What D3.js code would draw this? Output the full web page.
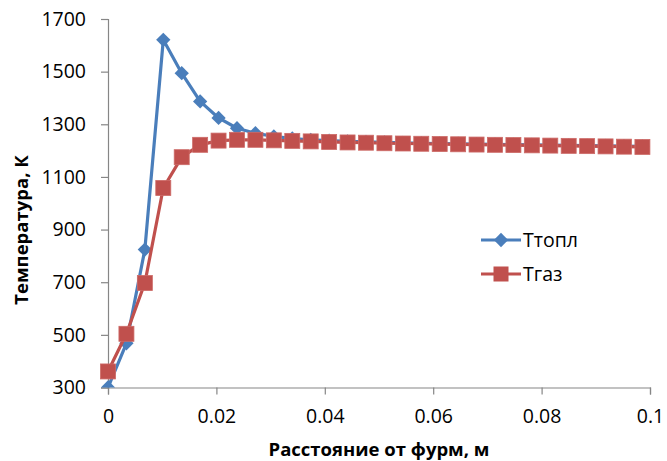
<!DOCTYPE html>
<html>
<head>
<meta charset="utf-8">
<script src="https://cdn.jsdelivr.net/npm/d3@7"></script>
<style>
  body { margin: 0; background: #fff; }
  text { font-family: "Open Sans", sans-serif; }
</style>
</head>
<body>
<script>
// chart size
var width = 667;
var height = 461;
var plotLeft = 108, plotRight = 650, plotTop = 19, plotBottom = 387.5;

// data
var distance = [0, 0.0034, 0.0068, 0.0102, 0.0136, 0.017, 0.0204, 0.0238, 0.0272, 0.0306,
  0.034, 0.0374, 0.0408, 0.0442, 0.0476, 0.051, 0.0544, 0.0578, 0.0612, 0.0646,
  0.068, 0.0714, 0.0748, 0.0782, 0.0816, 0.085, 0.0884, 0.0918, 0.0952, 0.0986];
var tTopl = [300, 468, 824, 1621, 1494, 1387, 1324, 1285, 1266, 1254,
  1246, 1241, 1238, 1235, 1233, 1231, 1229, 1228, 1227, 1226,
  1225, 1224, 1223, 1222, 1221, 1220, 1219, 1218, 1217, 1216];
var tGaz = [361, 504, 697, 1058, 1175, 1222, 1238, 1241, 1241, 1239,
  1237, 1235, 1233, 1231, 1230, 1228, 1227, 1226, 1225, 1224,
  1223, 1222, 1221, 1220, 1219, 1218, 1217, 1216, 1215, 1214];
var xTicks = [0, 0.02, 0.04, 0.06, 0.08, 0.1];
var yTicks = [300, 500, 700, 900, 1100, 1300, 1500, 1700];
var seriesNames = ["Ттопл", "Тгаз"];
var colors = ["#4A7EBB", "#C0504D"];

var svg = d3.select("body").append("svg")
  .attr("width", width)
  .attr("height", height);

var x = d3.scaleLinear().domain([0, 0.1]).range([plotLeft, plotRight]);
var y = d3.scaleLinear().domain([300, 1700]).range([plotBottom, plotTop]);

// axes
svg.append("g")
  .attr("transform", "translate(" + plotLeft + ",0)")
  .call(d3.axisLeft(y).tickValues(yTicks).tickSize(7).tickPadding(15).tickFormat(d3.format("d")));
svg.append("g")
  .attr("transform", "translate(0," + plotBottom + ")")
  .call(d3.axisBottom(x).tickValues(xTicks).tickSize(7).tickPadding(15).tickFormat(function(d){ return d === 0 ? "0" : d3.format("")(d); }));

svg.selectAll(".domain, .tick line").attr("stroke", "#868686").attr("stroke-width", 1.2);
svg.selectAll(".tick text")
  .style("font-family", "'Open Sans', sans-serif")
  .style("font-size", "19.5px")
  .attr("fill", "#000");

// axis titles
svg.append("text")
  .attr("x", 379).attr("y", 456)
  .attr("text-anchor", "middle")
  .style("font-size", "18.5px").style("font-weight", "bold")
  .text("Расстояние от фурм, м");
svg.append("text")
  .attr("transform", "translate(28,230) rotate(-90)")
  .attr("text-anchor", "middle")
  .style("font-size", "18.5px").style("font-weight", "bold")
  .text("Температура, К");

// markers do not go below the x axis
svg.append("clipPath").attr("id", "plotclip")
  .append("rect").attr("x", 0).attr("y", 0).attr("width", width).attr("height", plotBottom);

var series = [tTopl, tGaz];
var line = d3.line()
  .x(function(d, i){ return x(distance[i]); })
  .y(function(d){ return y(d); });

var plot = svg.append("g").attr("clip-path", "url(#plotclip)");

// lines first, then markers (Тгаз drawn over Ттопл)
series.forEach(function(s, k){
  plot.append("path")
    .datum(s)
    .attr("fill", "none")
    .attr("stroke", colors[k])
    .attr("stroke-width", 3.2)
    .attr("stroke-linejoin", "round")
    .attr("d", line);
  var g = plot.append("g");
  if (k === 0) {
    g.selectAll("path").data(s).enter().append("path")
      .attr("d", d3.symbol().type(d3.symbolDiamond2).size(130))
      .attr("transform", function(d, i){ return "translate(" + x(distance[i]) + "," + y(d) + ")"; })
      .attr("fill", colors[k]);
  } else {
    g.selectAll("rect").data(s).enter().append("rect")
      .attr("x", function(d, i){ return x(distance[i]) - 7.5; })
      .attr("y", function(d){ return y(d) - 7.5; })
      .attr("width", 15).attr("height", 15)
      .attr("fill", colors[k])
      .attr("stroke", "#CD6A67").attr("stroke-width", 0.8);
  }
});

// legend
var legendY = [240, 274];
series.forEach(function(s, k){
  var lg = svg.append("g").attr("transform", "translate(481," + legendY[k] + ")");
  lg.append("line").attr("x1", 0).attr("x2", 40).attr("y1", 0).attr("y2", 0)
    .attr("stroke", colors[k]).attr("stroke-width", 3.2);
  if (k === 0) {
    lg.append("path").attr("d", d3.symbol().type(d3.symbolDiamond2).size(130))
      .attr("transform", "translate(20,0)").attr("fill", colors[k]);
  } else {
    lg.append("rect").attr("x", 12.5).attr("y", -7.5).attr("width", 15).attr("height", 15)
      .attr("fill", colors[k]);
  }
  lg.append("text").attr("x", 42).attr("y", 7)
    .style("font-size", "19.5px").attr("fill", "#000")
    .text(seriesNames[k]);
});
</script>
</body>
</html>
